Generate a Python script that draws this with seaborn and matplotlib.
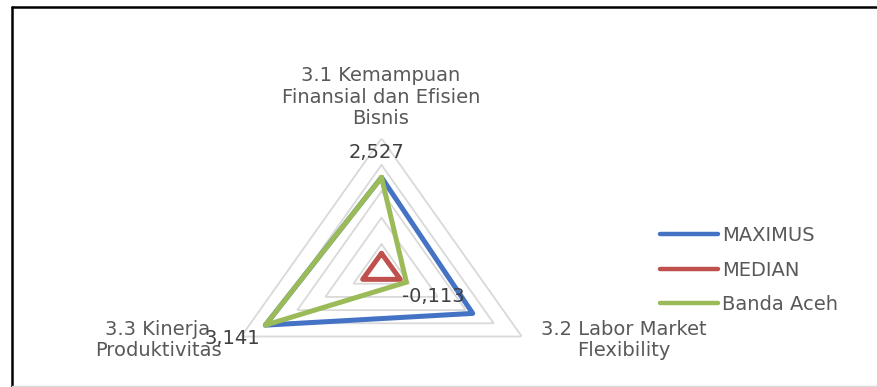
import numpy as np
import pandas as pd
import matplotlib
matplotlib.use("Agg")
import matplotlib.pyplot as plt
from matplotlib.lines import Line2D
import seaborn as sns

# ---- data -------------------------------------------------------------
categories = ["3.1 Kemampuan\nFinansial dan Efisien\nBisnis",
              "3.2 Labor Market\nFlexibility",
              "3.3 Kinerja\nProduktivitas"]
series_names = ["MAXIMUS", "MEDIAN", "Banda Aceh"]
maximus = [2.527, 2.25, 3.141]
median = [-0.35, -0.33, -0.33]
banda_aceh = [2.527, -0.113, 3.141]
value_labels = ["2,527", "-0,113", "3,141"]   # labels for Banda Aceh
ring_values = [0, 1, 2, 3, 4]
r_min, r_max = -1, 4

colors = {"MAXIMUS": "#4472C4", "MEDIAN": "#C0504D", "Banda Aceh": "#9BBB59"}
text_grey = "#595959"

# ---- long table for seaborn ----------------------------------------------
n = len(categories)
theta = np.linspace(0, 2 * np.pi, n, endpoint=False)
theta_closed = np.append(theta, 2 * np.pi)
rows = []
for name, vals in zip(series_names, [maximus, median, banda_aceh]):
    closed = list(vals) + [vals[0]]
    for order, (t, v) in enumerate(zip(theta_closed, closed)):
        rows.append({"series": name, "theta": t, "value": v, "order": order})
df = pd.DataFrame(rows)

sns.set_theme(style="white")
plt.rcParams["font.family"] = ["DejaVu Sans"]

W, H = 877, 387
fig = plt.figure(figsize=(W / 100, H / 100), dpi=100)
fig.patch.set_facecolor("white")

# polar axes stretched horizontally (aspect auto)
cx, cy, rx, ry = 381.5, 270.5, 162.0, 132.0
ax = fig.add_axes([(cx - rx) / W, (H - cy - ry) / H, 2 * rx / W, 2 * ry / H],
                  projection="polar")
ax.set_aspect("auto")
ax.set_theta_offset(np.pi / 2)
ax.set_theta_direction(-1)
ax.set_ylim(r_min, r_max)
ax.grid(False)
ax.spines["polar"].set_visible(False)
ax.set_xticks([])
ax.set_yticks([])
ax.patch.set_alpha(0)

# triangular grid rings
for rv in ring_values:
    ax.plot(theta_closed, [rv] * (n + 1), color="#D9D9D9", lw=1.3, zorder=1,
            solid_joinstyle="miter")

sns.lineplot(data=df, x="theta", y="value", hue="series", hue_order=series_names,
             palette=colors, sort=False, estimator=None, units="series",
             lw=3.6, ax=ax, legend=False, zorder=3)
for line in ax.lines[len(ring_values):]:
    line.set_solid_joinstyle("round")
    line.set_solid_capstyle("round")

# category labels
label_pos = [(381, 97), (624, 340), (158, 340)]
for txt, (px, py) in zip(categories, label_pos):
    fig.text(px / W, 1 - py / H, txt, ha="center", va="center", fontsize=14,
             color=text_grey, linespacing=1.15)

# data labels for Banda Aceh
value_pos = [(376, 153), (433, 297), (232, 339)]
for txt, (px, py) in zip(value_labels, value_pos):
    fig.text(px / W, 1 - py / H, txt, ha="center", va="center", fontsize=14,
             color="#404040")

# legend
handles = [Line2D([], [], color=colors[s], lw=3.2, solid_capstyle="round")
           for s in series_names]
fig.legend(handles, series_names, loc="center left",
           bbox_to_anchor=(660 / W, 1 - 270 / H), frameon=False,
           borderpad=0, borderaxespad=0, handlelength=3.0, handletextpad=0.2,
           labelspacing=0.8, fontsize=14, labelcolor=text_grey)

# frame lines around the chart area
fig.add_artist(Line2D([12 / W, 1], [1 - 7.2 / H] * 2, transform=fig.transFigure,
                      color="black", lw=1.8))
fig.add_artist(Line2D([12.2 / W] * 2, [1 - 7.2 / H, 0], transform=fig.transFigure,
                      color="black", lw=1.8))
fig.add_artist(Line2D([12 / W, 1], [0.8 / H] * 2, transform=fig.transFigure,
                      color="#D9D9D9", lw=1.0))

fig.savefig("out.png", dpi=100, facecolor="white")
